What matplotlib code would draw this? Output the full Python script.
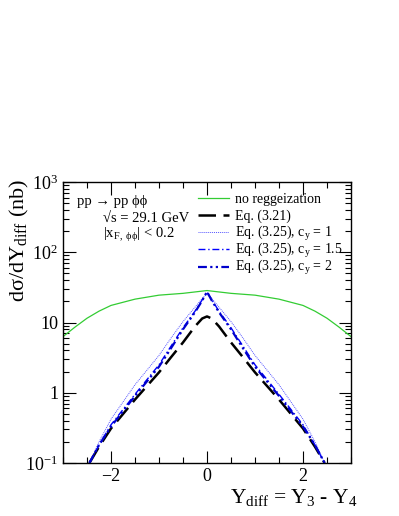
import matplotlib
matplotlib.use("Agg")
import matplotlib.pyplot as plt
from matplotlib.legend import Legend
import numpy as np

plt.rcParams['font.family'] = ['Liberation Serif', 'DejaVu Serif']
plt.rcParams['mathtext.fontset'] = 'custom'
plt.rcParams['mathtext.rm'] = 'Liberation Serif'
plt.rcParams['mathtext.it'] = 'Liberation Serif'

# --- data ---
x_green = [-3.0, -2.75, -2.5, -2.25, -2.0, -1.5, -1.0, -0.5, 0.0,
           0.5, 1.0, 1.5, 2.0, 2.25, 2.5, 2.75, 3.0]
y_green = [6.3, 8.6, 11.5, 14.5, 17.5, 21.5, 24.5, 26.0, 28.5,
           26.0, 24.5, 21.5, 17.5, 14.5, 11.5, 8.6, 6.3]

x_peak = [-2.45, -2.25, -2.0, -1.5, -1.0, -0.75, -0.5, -0.25, -0.1, 0.0,
          0.1, 0.25, 0.5, 0.75, 1.0, 1.5, 2.0, 2.25, 2.45]
y_eq321 = [0.1, 0.17, 0.31, 0.8, 1.95, 3.2, 5.2, 8.8, 11.4, 12.2,
           11.4, 8.8, 5.2, 3.2, 1.95, 0.8, 0.31, 0.17, 0.1]
y_cy1 = [0.1, 0.2, 0.42, 1.3, 3.4, 6.0, 10.3, 16.5, 22.0, 25.5,
         22.0, 16.5, 10.3, 6.0, 3.4, 1.3, 0.42, 0.2, 0.1]
y_cy15 = [0.1, 0.18, 0.35, 0.95, 2.5, 4.6, 8.4, 14.5, 21.0, 27.0,
          21.0, 14.5, 8.4, 4.6, 2.5, 0.95, 0.35, 0.18, 0.1]
y_cy2 = [0.1, 0.18, 0.33, 0.9, 2.35, 4.3, 8.0, 14.0, 20.5, 27.5,
         20.5, 14.0, 8.0, 4.3, 2.35, 0.9, 0.33, 0.18, 0.1]

labels = ['no reggeization', 'Eq. (3.21)',
          r'Eq. (3.25), c$_{\rm y}$ = 1',
          r'Eq. (3.25), c$_{\rm y}$ = 1.5',
          r'Eq. (3.25), c$_{\rm y}$ = 2']

fig = plt.figure(figsize=(3.99, 5.16), dpi=100)
ax = fig.add_axes([63/399, 1 - 463/516, 288/399, 281/516])

lines = []
lines += ax.plot(x_green, y_green, color='#33cc33', lw=0.9)
lines += ax.plot(x_peak, y_eq321, color='black', lw=1.8, dashes=(7, 3))
lines += ax.plot(x_peak, y_cy1, color='#5555ff', lw=0.7, ls=(0, (1, 1)))
lines += ax.plot(x_peak, y_cy15, color='#0000ff', lw=1.0, ls=(0, (5, 2, 1, 2)))
lines += ax.plot(x_peak, y_cy2, color='#0000cc', lw=1.6,
                 ls=(0, (4, 1.5, 1, 1.5, 1, 1.5)))

ax.set_yscale('log')
ax.set_xlim(-3, 3)
ax.set_ylim(0.1, 1000)
ax.set_xticks([-2, 0, 2])
ax.set_xticklabels(['\u22122', '0', '2'])
ax.set_xticks(np.arange(-3, 3.01, 0.5), minor=True)
ax.set_yticks([0.1, 1, 10, 100, 1000])
ax.set_yticklabels([r'10$^{-1}$', '1', '10', r'10$^{2}$', r'10$^{3}$'])
ax.tick_params(which='both', direction='in', top=True, right=True, labelsize=13)
ax.tick_params(which='major', length=9, width=0.8)
ax.tick_params(which='minor', length=4.5, width=0.8)
for s in ax.spines.values():
    s.set_linewidth(1.0)

# one legend row per line (ROOT-like spacing)
row_y = [0.938, 0.877, 0.816, 0.755, 0.694]
for ln, lab, yy in zip(lines, labels, row_y):
    leg = Legend(ax, [ln], [lab], loc='center left', bbox_to_anchor=(0.469, yy),
                 frameon=False, fontsize=10, handlelength=2.2,
                 handletextpad=0.45, borderpad=0, borderaxespad=0)
    ax.add_artist(leg)

ax.text(0.05, 0.93, 'pp \u2192 pp \u03d5\u03d5', transform=ax.transAxes,
        fontsize=10.5, va='center')
ax.text(0.138, 0.87, '\u221as = 29.1 GeV', transform=ax.transAxes,
        fontsize=10.5, va='center')
ax.text(0.138, 0.81, r'|x$_{\rm F,\ \phi\phi}$| < 0.2', transform=ax.transAxes,
        fontsize=10.5, va='center')

fig.text(0.05, 1 - 240/516, r'd$\sigma$/dY$_{\rm diff}$ (nb)', rotation=90,
         fontsize=16, va='center', ha='center')
fig.text(0.577, 1 - 497/516, r'Y$_{\rm diff}$ = Y$_{3}$ - Y$_{4}$',
         fontsize=15.5, va='center', ha='left')

fig.savefig('out.png', dpi=100)
